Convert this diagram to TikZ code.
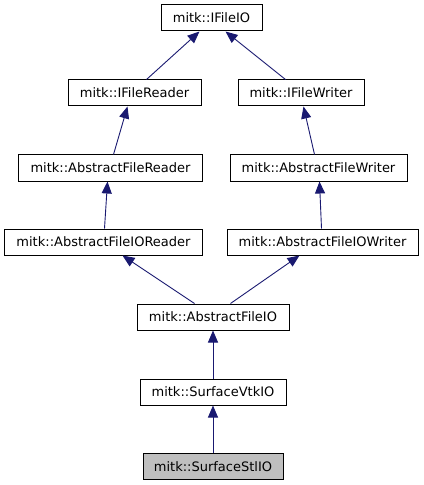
\documentclass[tikz,border=0pt]{standalone}
\usepackage{fontspec}
\setmainfont{DejaVu Sans}
\usetikzlibrary{arrows.meta,calc}
\definecolor{edgeblue}{HTML}{191970}
\definecolor{curgray}{HTML}{BFBFBF}
\tikzset{
  cls/.style={draw=black, line width=1bp, fill=white, minimum height=26bp, inner sep=0pt, font=\fontsize{13bp}{15bp}\selectfont, text=black},
  inh/.style={draw=edgeblue, line width=0.9bp, -{Triangle[length=12bp,width=10bp]}, color=edgeblue}
}
\begin{document}
\begin{tikzpicture}[x=1bp,y=-1bp]
\useasboundingbox (0,0) rectangle (423,485);
\node[cls, minimum width=101bp] (ifio) at (211.5,18) {mitk::IFileIO};
\node[cls, minimum width=133bp] (ifr) at (134.5,93) {mitk::IFileReader};
\node[cls, minimum width=126bp] (ifw) at (301,93) {mitk::IFileWriter};
\node[cls, minimum width=183bp] (afr) at (110.5,168) {mitk::AbstractFileReader};
\node[cls, minimum width=177bp] (afw) at (318.5,168) {mitk::AbstractFileWriter};
\node[cls, minimum width=197bp] (afior) at (103.5,242) {mitk::AbstractFileIOReader};
\node[cls, minimum width=191bp] (afiow) at (322.5,242) {mitk::AbstractFileIOWriter};
\node[cls, minimum width=152bp] (afio) at (213,317) {mitk::AbstractFileIO};
\node[cls, minimum width=146bp] (svtk) at (213,392) {mitk::SurfaceVtkIO};
\node[cls, minimum width=140bp, fill=curgray] (sstl) at (213,466.5) {mitk::SurfaceStlIO};

\draw[inh] ($(ifr.north west)+(79,0)$) -- ($(ifio.south west)+(39,0)$);
\draw[inh] ($(ifw.north west)+(48,0)$) -- ($(ifio.south west)+(65,0)$);
\draw[inh] ($(afr.north west)+(95,0)$) -- ($(ifr.south west)+(60,0)$);
\draw[inh] ($(afw.north west)+(85,0)$) -- ($(ifw.south west)+(66,0)$);
\draw[inh] ($(afior.north west)+(100,0)$) -- ($(afr.south west)+(89,0)$);
\draw[inh] ($(afiow.north west)+(95,0)$) -- ($(afw.south west)+(90,0)$);
\draw[inh] ($(afio.north west)+(58,0)$) -- ($(afior.south west)+(118,0)$);
\draw[inh] ($(afio.north west)+(94,0)$) -- ($(afiow.south west)+(73,0)$);
\draw[inh] (svtk.north) -- (afio.south);
\draw[inh] (sstl.north) -- (svtk.south);
\end{tikzpicture}
\end{document}
